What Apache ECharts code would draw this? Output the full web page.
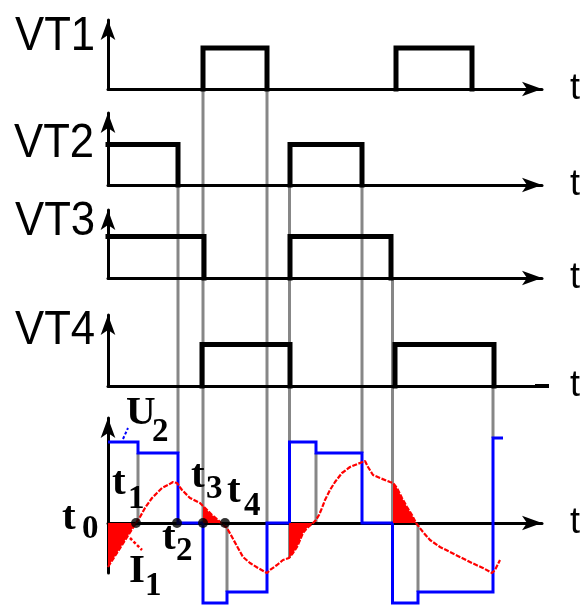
<!DOCTYPE html>
<html><head><meta charset="utf-8">
<script src="https://cdn.jsdelivr.net/npm/echarts@6/dist/echarts.min.js"></script>
<style>html,body{margin:0;padding:0;background:#fff}#c{width:584px;height:605px}</style>
</head><body><div id="c"></div>
<script>
// ---------- data (time axis shared by all panels) ----------
const T_MAX = 434;
const panelNames = ['VT1', 'VT2', 'VT3', 'VT4'];
const vt1Pulses = [[95, 159], [288, 364]];
const vt2Pulses = [[0, 70], [182, 254]];
const vt3Pulses = [[0, 96], [182, 283]];
const vt4Pulses = [[94, 182], [287, 386]];

// U2 (blue) : level starting at each time (step)
const uTimes  = [0, 30, 70, 95, 119, 159, 181.5, 208, 254, 284.5, 310, 385, 395];
const uValues = [81, 70, 0, -80, -69, 0, 81, 70, 0, -80, -69, 85, 85];

// current (red)
const iTimes  = [0, 28, 32, 37, 44, 49, 54, 60, 65, 69, 74, 82, 92, 95, 97, 104, 110, 113, 119, 124, 130, 135, 142, 150, 159, 162, 169, 175, 181, 185, 189, 192, 195, 199, 205, 208, 211, 214, 217, 222, 227, 234, 242, 252, 257, 260, 265, 272, 282, 285, 289, 294, 299, 304, 308, 310, 315, 322, 332, 342, 354, 364, 375, 384, 387, 392];
const iValues = [-44, 0, 6, 15, 25, 30, 35, 38, 41, 40, 33, 25, 20, 17, 15, 8, 3, 0, -5, -14, -25, -34, -40, -45, -50, -47, -42, -37, -35, -30, -24, -17, -10, -5, 0, 3, 8, 15, 23, 33, 41, 50, 56, 60, 62, 56, 48, 45, 41, 40, 35, 25, 16, 8, 0, -2, -9, -17, -24, -29, -35, -40, -45, -50, -47, -37];
const fillRanges = [[0, 28], [95, 113], [181, 205], [285, 308]];

// marked instants on the time axis
const dotTimes = [28, 69, 95, 117];

// gray vertical guide lines: time, start panel, start value, end value (bottom panel)
const grayT          = [70, 95, 159, 181.5, 254, 284.5, 385, 30, 119, 208, 310];
const grayStartPanel = [1, 0, 0, 1, 1, 2, 3, 4, 4, 4, 4];
const grayStartValue = [0, 0, 0, 0, 0, 0, 0, 70, 0, 70, 0];
const grayEndValue   = [70, 0, 0, -35, 70, 0, 85, 0, -69, 0, -69];

// annotation pointers (bottom panel)
const u2Pointer = [[15, 84], [20, 95]];
const i1Pointer = [[22, -15], [34, -27]];

// ---------- layout ----------
const gridTops = [20, 113, 210, 315, 418];
const gridHeights = [69, 72, 68, 71, 155];
const yMins = [0, 0, 0, 0, -50];
const yMaxs = [1.68, 1.78, 1.64, 1.71, 105];
const tNamePad = [9, 9, 9, 2, 8];

const SERIF = '"Liberation Serif","Times New Roman",serif';
const SANS = '"Liberation Sans",Arial,sans-serif';

const grids = gridTops.map((top, i) => ({left: 108, top: top, width: T_MAX, height: gridHeights[i]}));
const xAxes = grids.map((g, i) => ({
  gridIndex: i, type: 'value', min: 0, max: T_MAX, z: 1,
  axisLine: {show: true, onZero: true, lineStyle: {color: '#000', width: 3},
    symbol: i === 3 ? ['none', 'rect'] : ['none', 'arrow'], symbolSize: i === 3 ? [4, 14] : [11, 20]},
  axisTick: {show: false}, axisLabel: {show: false}, splitLine: {show: false},
  name: 't', nameLocation: 'end', nameGap: 28,
  nameTextStyle: {color: '#000', fontSize: 36, fontFamily: SANS, padding: [0, 0, tNamePad[i], 0]}
}));
const yAxes = grids.map((g, i) => ({
  gridIndex: i, type: 'value', min: yMins[i], max: yMaxs[i], z: 1,
  axisLine: {show: true, onZero: true, lineStyle: {color: '#000', width: 3},
    symbol: ['none', 'arrow'], symbolSize: [11, 20]},
  axisTick: {show: false}, axisLabel: {show: false}, splitLine: {show: false}
}));

const series = [];
[vt1Pulses, vt2Pulses, vt3Pulses, vt4Pulses].forEach((pulses, p) => {
  pulses.forEach(([a, b]) => {
    const pts = a === 0 ? [[a, 1], [b, 1], [b, 0]] : [[a, 0], [a, 1], [b, 1], [b, 0]];
    series.push({type: 'line', xAxisIndex: p, yAxisIndex: p, data: pts, symbol: 'none', clip: false,
      silent: true, z: 2, lineStyle: {color: '#000', width: 5, join: 'miter', cap: 'square'}});
  });
});
series.push({type: 'line', xAxisIndex: 4, yAxisIndex: 4, step: 'end', symbol: 'none', clip: false, silent: true, z: 2,
  data: uTimes.map((t, i) => [t, uValues[i]]), lineStyle: {color: '#0000ff', width: 3, join: 'miter'}});
const iData = iTimes.map((t, i) => [t, iValues[i]]);
fillRanges.forEach(([a, b]) => {
  series.push({type: 'line', xAxisIndex: 4, yAxisIndex: 4, symbol: 'none', clip: false, silent: true, z: 3,
    data: iData.filter(p => p[0] >= a && p[0] <= b),
    lineStyle: {width: 0}, areaStyle: {color: '#ff0000', opacity: 1}});
});
series.push({type: 'line', xAxisIndex: 4, yAxisIndex: 4, symbol: 'none', clip: false, silent: true, z: 3,
  data: iData, lineStyle: {color: '#ff0000', width: 2.2, type: [5, 1.5]}});
series.push({type: 'line', xAxisIndex: 4, yAxisIndex: 4, symbol: 'none', clip: false, silent: true, z: 3,
  data: u2Pointer, lineStyle: {color: '#0000ff', width: 2, type: [3, 2]}});
series.push({type: 'line', xAxisIndex: 4, yAxisIndex: 4, symbol: 'none', clip: false, silent: true, z: 3,
  data: i1Pointer, lineStyle: {color: '#ff0000', width: 2.5, type: [3, 2]}});
series.push({type: 'scatter', xAxisIndex: 4, yAxisIndex: 4, symbol: 'circle', symbolSize: 10, silent: true, z: 4,
  data: dotTimes.map(t => [t, 0]), itemStyle: {color: '#000'}});

const chart = echarts.init(document.getElementById('c'), null, {renderer: 'canvas', width: 584, height: 605});
chart.setOption({animation: false, backgroundColor: '#fff', grid: grids, xAxis: xAxes, yAxis: yAxes, series: series});

// ---------- graphic: gray guide lines through the axes' scales, and labels ----------
const els = [];
grayT.forEach((t, i) => {
  const p = grayStartPanel[i];
  const x = chart.convertToPixel({xAxisIndex: p}, t);
  const y1 = chart.convertToPixel({yAxisIndex: p}, grayStartValue[i]);
  const y2 = chart.convertToPixel({yAxisIndex: 4}, grayEndValue[i]);
  els.push({type: 'line', z: 0, silent: true, shape: {x1: x, y1: y1, x2: x, y2: y2},
    style: {stroke: '#878787', lineWidth: 3}});
});
function txt(text, x, y, font, sx) {
  els.push({type: 'text', x: x, y: y, scaleX: sx || 1, z: 10, silent: true,
    style: {text: text, x: 0, y: 0, font: font, fill: '#000',
      align: 'left', verticalAlign: 'middle', textAlign: 'left', textVerticalAlign: 'middle'}});
}
const vtPos = [[15, 36.4], [14, 143.4], [15, 221.4], [15, 330.4]];
panelNames.forEach((n, i) => txt(n, vtPos[i][0], vtPos[i][1], '48px ' + SANS, 0.91));
const MAIN = 'bold 41px ' + SERIF, SUB = 'bold 33px ' + SERIF;
const labels = [
  ['t', '0', 62, 518.5, 82, 529],
  ['t', '1', 112, 483.5, 128, 499],
  ['t', '2', 162, 538.5, 176, 551],
  ['t', '3', 191, 476.5, 206, 489],
  ['t', '4', 227, 491.5, 244, 506],
  ['U', '2', 126, 413.5, 152, 432],
  ['I', '1', 129, 571.5, 145, 586]
];
labels.forEach(l => { txt(l[0], l[2], l[3], MAIN); txt(l[1], l[4], l[5], SUB); });
chart.setOption({graphic: {elements: els}});
</script></body></html>
